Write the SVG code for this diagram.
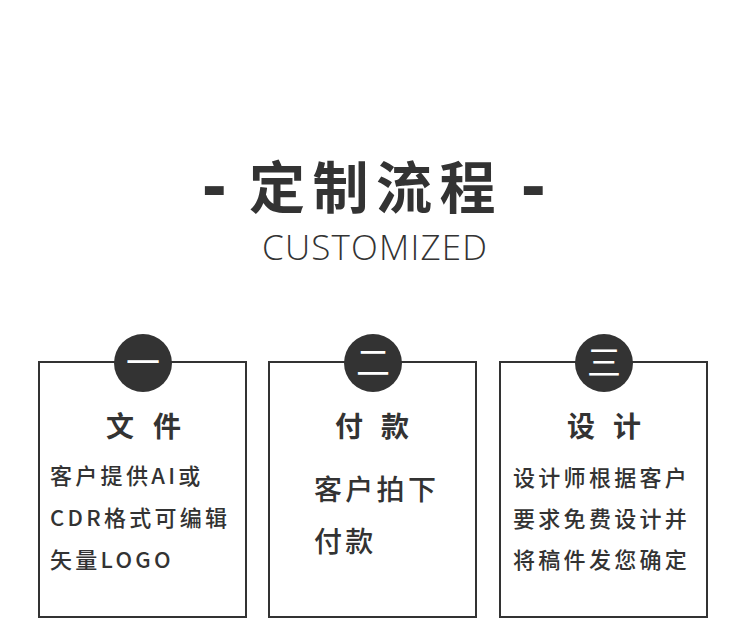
<svg xmlns="http://www.w3.org/2000/svg" width="750" height="621" viewBox="0 0 750 621">
<style>
.cjk{font-family:"Noto Sans CJK SC","Noto Sans",sans-serif;fill:#333}
.title{font-size:56px;font-weight:700;letter-spacing:7.5px}
.dash{font-family:"Liberation Sans",sans-serif;font-size:74px;font-weight:700;fill:#333}
.sub{font-family:"Open Sans","Noto Sans",sans-serif;font-size:35px;font-weight:300;fill:#333}
.box{fill:#fff;stroke:#333;stroke-width:2}
.badge{fill:#333}
.num{font-family:"Noto Sans CJK SC",sans-serif;font-size:34px;fill:#fff;text-anchor:middle}
.head{font-size:28px;font-weight:700}
.body{font-size:22px;font-weight:500;letter-spacing:3.3px}
.body2{font-size:28px;font-weight:500;letter-spacing:3.3px}
</style>
<rect width="750" height="621" fill="#fff"/>
<g id="title">
<text class="cjk title" y="208"><tspan class="dash" x="202" y="210">-</tspan><tspan x="249" y="208">定制流程</tspan><tspan class="dash" x="521" y="210">-</tspan></text>
<text class="sub" x="262" y="260" textLength="225" lengthAdjust="spacing">CUSTOMIZED</text>
</g>
<g id="connectors"></g>
<g id="node-1">
<rect class="box" x="39" y="362" width="207" height="255"/>
<circle class="badge" cx="143" cy="363" r="29"/>
<text class="num" x="143" y="375">一</text>
<text class="cjk head" x="106 134 153" y="437">文 件</text>
<text class="cjk body" x="50" y="484">客户提供AI或</text>
<text class="cjk body" x="50" y="526">CDR格式可编辑</text>
<text class="cjk body" x="50" y="568">矢量LOGO</text>
</g>
<g id="node-2">
<rect class="box" x="269" y="362" width="207" height="255"/>
<circle class="badge" cx="373" cy="363" r="29"/>
<text class="num" x="373" y="375">二</text>
<text class="cjk head" x="335 363 381" y="437">付 款</text>
<text class="cjk body2" x="314" y="500">客户拍下</text>
<text class="cjk body2" x="314" y="552">付款</text>
</g>
<g id="node-3">
<rect class="box" x="500" y="362" width="207" height="255"/>
<circle class="badge" cx="604" cy="363" r="29"/>
<text class="num" x="604" y="375">三</text>
<text class="cjk head" x="567 595 613" y="437">设 计</text>
<text class="cjk body" x="513" y="486">设计师根据客户</text>
<text class="cjk body" x="513" y="527">要求免费设计并</text>
<text class="cjk body" x="513" y="568">将稿件发您确定</text>
</g>
</svg>
